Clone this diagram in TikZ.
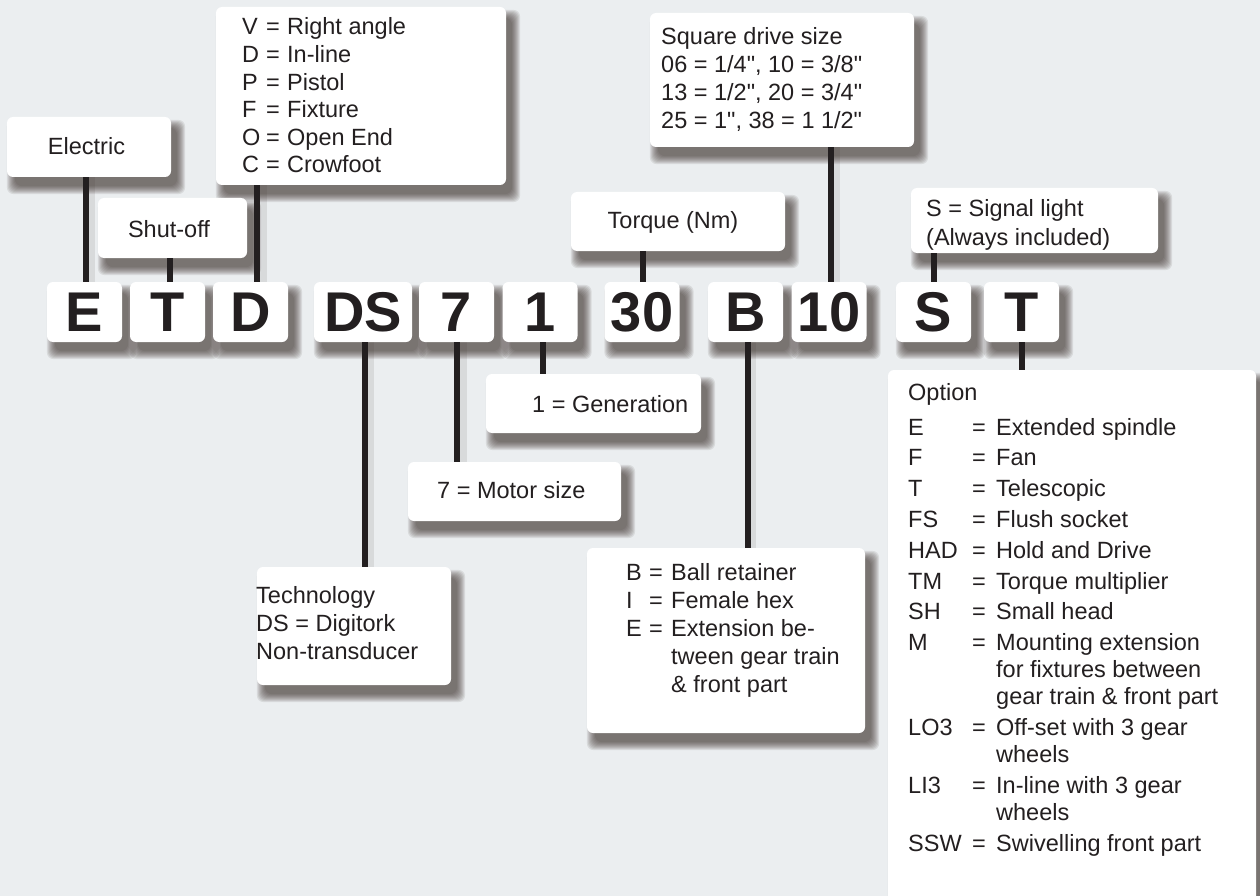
\documentclass[tikz,border=0pt]{standalone}
\usepackage{fontspec}
\setmainfont{Liberation Sans}
\newfontfamily\straightfont{Liberation Sans}
\usetikzlibrary{calc}
\definecolor{bgc}{HTML}{EBEEF0}
\definecolor{ink}{HTML}{231F20}
\definecolor{shd}{HTML}{3A2E2A}
\pgfdeclarelayer{back}
\pgfdeclarelayer{shade}
\pgfsetlayers{back,shade,main}
\newcommand\inch{{\straightfont"}}
\tikzset{
  card/.style={draw=none, fill=white, rounded corners=6pt, inner sep=0pt},
  letterbox/.style={card, minimum width=75pt, minimum height=60pt,
    font=\fontsize{56}{56}\selectfont\bfseries, text=ink},
  lbl/.style={inner sep=0pt, text=ink, font=\fontsize{23.5}{27.7}\selectfont},
  wire/.style={line width=6pt, draw=ink},
  wireshade/.style={line width=9pt, draw=shd, opacity=0.10},
}
\newcommand\cardshade[1]{%
  \begin{pgfonlayer}{shade}
    \foreach \k in {0,1,2,3,4,5,6,7,8}{%
      \fill[shd, opacity=0.10, rounded corners=7pt]
        ($(#1.north west)+(8-\k,11-\k)$) rectangle ($(#1.south east)+(6+\k,9+\k)$);
    }
  \end{pgfonlayer}}
\begin{document}
\begin{tikzpicture}[x=1pt,y=-1pt]
\begin{pgfonlayer}{back}
  \fill[bgc] (0,0) rectangle (1260,896);
\end{pgfonlayer}
\useasboundingbox (0,0) rectangle (1260,896);

% ---------- code letter boxes ----------
\node[letterbox] (kE)  at (84.5,312) {E};
\node[letterbox] (kT)  at (167.5,312) {T};
\node[letterbox] (kD)  at (250.5,312) {D};
\node[letterbox, minimum width=98pt] (kDS) at (363,312) {DS};
\node[letterbox] (k7)  at (456.5,312) {7};
\node[letterbox] (k1)  at (540,312) {1};
\node[letterbox] (k30) at (642,312) {30};
\node[letterbox] (kB)  at (745.5,312) {B};
\node[letterbox] (k10) at (829,312) {10};
\node[letterbox] (kS)  at (933.5,312) {S};
\node[letterbox] (kT2) at (1021.5,312) {T};

% ---------- label boxes ----------
\node[card, minimum width=164pt, minimum height=60pt] (electric) at (89,147) {};
\node[card, minimum width=149pt, minimum height=60pt] (shutoff) at (172.5,228) {};
\node[card, minimum width=290pt, minimum height=178pt] (orient) at (361,96) {};
\node[card, minimum width=214pt, minimum height=59pt] (torque) at (678,221.5) {};
\node[card, minimum width=264pt, minimum height=134pt] (square) at (782,80) {};
\node[card, minimum width=247pt, minimum height=65pt] (signal) at (1034.5,220.5) {};
\node[card, minimum width=215pt, minimum height=59pt] (gen) at (593.5,403.5) {};
\node[card, minimum width=213pt, minimum height=59pt] (motor) at (514.5,491.5) {};
\node[card, minimum width=194pt, minimum height=118pt] (tech) at (354,626) {};
\node[card, minimum width=278pt, minimum height=185pt] (ball) at (726,640.5) {};
\node[card, minimum width=368pt, minimum height=560pt] (option) at (1072,650) {};

\foreach \n in {kE,kT,kD,kDS,k7,k1,k30,kB,k10,kS,kT2,electric,shutoff,orient,torque,square,signal,gen,motor,tech,ball,option}{\cardshade{\n}}

% ---------- texts ----------
\node[lbl, anchor=base] (electricT) at (86.5,155) {Electric};
\node[lbl, anchor=base] (shutoffT) at (169,237) {Shut-off};
\node[lbl, anchor=base] (torqueT) at (673,228) {Torque (Nm)};
\node[lbl, anchor=base west] (genT) at (532,412) {1 = Generation};
\node[lbl, anchor=base west] (motorT) at (437,498) {7 = Motor size};

\node[lbl, anchor=base west, font=\fontsize{23.5}{27.6}\selectfont] (orientT) at (242,35)
  {\begin{tabular}[t]{@{}p{24pt}@{}p{21pt}@{}l@{}}
   V&=&Right angle\\ D&=&In-line\\ P&=&Pistol\\ F&=&Fixture\\ O&=&Open End\\ C&=&Crowfoot
   \end{tabular}};

\node[lbl, anchor=base west, font=\fontsize{23.5}{27.7}\selectfont] (squareT) at (661,45)
  {\begin{tabular}[t]{@{}l@{}}
   Square drive size\\ 06 = 1/4\inch, 10 = 3/8\inch\\ 13 = 1/2\inch, 20 = 3/4\inch\\ 25 = 1\inch, 38 = 1 1/2\inch
   \end{tabular}};

\node[lbl, anchor=base west, font=\fontsize{23.5}{29}\selectfont] (signalT) at (926,216)
  {\begin{tabular}[t]{@{}l@{}}
   S = Signal light\\ (Always included)
   \end{tabular}};

\node[lbl, anchor=base west, font=\fontsize{23.5}{28}\selectfont] (techT) at (256,603)
  {\begin{tabular}[t]{@{}l@{}}
   Technology\\ DS = Digitork\\ Non-transducer
   \end{tabular}};

\node[lbl, anchor=base west, font=\fontsize{23.5}{28}\selectfont] (ballT) at (626,580)
  {\begin{tabular}[t]{@{}p{23pt}@{}p{22pt}@{}l@{}}
   B&=&Ball retainer\\ I&=&Female hex\\ E&=&Extension be-\\ &&tween gear train\\ &&\& front part
   \end{tabular}};

\node[lbl, anchor=base west, font=\fontsize{23.5}{27}\selectfont] (optionT) at (908,400)
  {\begin{tabular}[t]{@{}p{64pt}@{}p{24pt}@{}l@{}}
   \multicolumn{3}{@{}l@{}}{Option}\\[8pt]
   E&=&Extended spindle\\[3.8pt]
   F&=&Fan\\[3.8pt]
   T&=&Telescopic\\[3.8pt]
   FS&=&Flush socket\\[3.8pt]
   HAD&=&Hold and Drive\\[3.8pt]
   TM&=&Torque multiplier\\[3.8pt]
   SH&=&Small head\\[3.8pt]
   M&=&Mounting extension\\
    &&for fixtures between\\
    &&gear train \& front part\\[3.8pt]
   LO3&=&Off-set with 3 gear\\
    &&wheels\\[3.8pt]
   LI3&=&In-line with 3 gear\\
    &&wheels\\[3.8pt]
   SSW&=&Swivelling front part
   \end{tabular}};

% ---------- connectors ----------
\begin{pgfonlayer}{shade}
  \draw[wireshade] ([xshift=6pt]kE.north) -- ([xshift=6pt]kE.north |- electric.south);
  \draw[wireshade] ([xshift=12pt]kD.north) -- ([xshift=12pt]kD.north |- orient.south);
  \draw[wireshade] ([xshift=6pt]kDS.south) -- ([xshift=6pt]kDS.south |- tech.north);
  \draw[wireshade] ([xshift=6pt]k7.south) -- ([xshift=6pt]k7.south |- motor.north);
  \draw[wireshade] ([xshift=6pt]kB.south) -- ([xshift=6pt]kB.south |- ball.north);
  \draw[wireshade] ([xshift=6pt]k10.north) -- ([xshift=6pt]k10.north |- square.south);
\end{pgfonlayer}
\draw[wire] ([xshift=1.5pt]kE.north) -- ([xshift=1.5pt]kE.north |- electric.south);
\draw[wire] ([xshift=2.5pt]kT.north) -- ([xshift=2.5pt]kT.north |- shutoff.south);
\draw[wire] ([xshift=6.5pt]kD.north) -- ([xshift=6.5pt]kD.north |- orient.south);
\draw[wire] ([xshift=2pt]kDS.south) -- ([xshift=2pt]kDS.south |- tech.north);
\draw[wire] (k7.south) -- (k7.south |- motor.north);
\draw[wire] ([xshift=3pt]k1.south) -- ([xshift=3pt]k1.south |- gen.north);
\draw[wire] ([xshift=1pt]k30.north) -- ([xshift=1pt]k30.north |- torque.south);
\draw[wire] ([xshift=2.5pt]kB.south) -- ([xshift=2.5pt]kB.south |- ball.north);
\draw[wire] ([xshift=2pt]k10.north) -- ([xshift=2pt]k10.north |- square.south);
\draw[wire] (kS.north) -- (kS.north |- signal.south);
\draw[wire] (kT2.south) -- (kT2.south |- option.north);
\end{tikzpicture}
\end{document}
